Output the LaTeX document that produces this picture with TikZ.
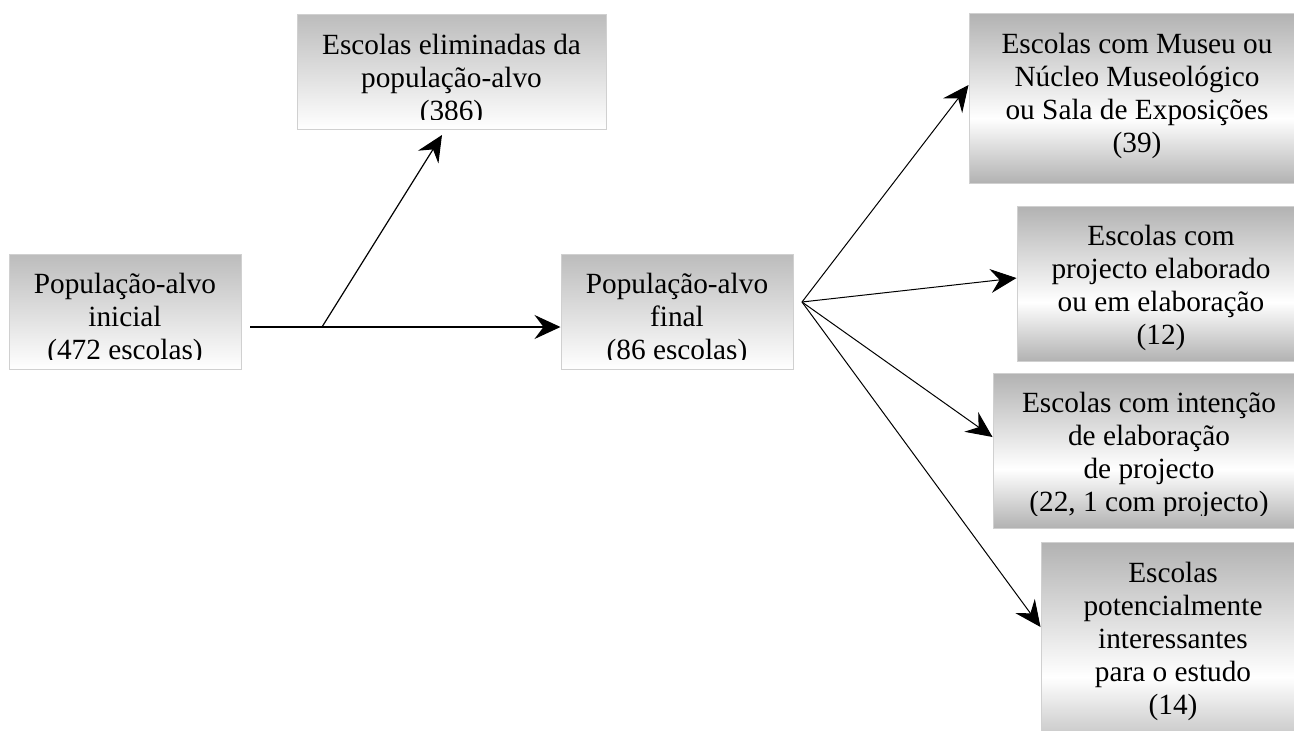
\documentclass[tikz,border=0pt]{standalone}
\usepackage{fontspec}
\setmainfont{Liberation Serif}
\usetikzlibrary{arrows.meta}
\definecolor{boxgray}{RGB}{178,178,178}
\definecolor{boxgrayA}{RGB}{188,188,188}
\definecolor{boxedge}{RGB}{208,208,208}
\pgfdeclareverticalshading{gwg}{100bp}{color(0bp)=(boxgray); color(25bp)=(boxgray); color(44bp)=(white); color(75bp)=(boxgray); color(100bp)=(boxgray)}
\begin{document}
\begin{tikzpicture}[x=1pt,y=-1pt,
  boxA/.style={rectangle, draw=boxedge, line width=1pt, inner sep=0pt, top color=boxgrayA, bottom color=white},
  boxB/.style={rectangle, draw=boxedge, line width=1pt, inner sep=0pt, shading=gwg},
  txt/.style={font=\fontsize{29.3}{33}\selectfont, align=center, inner sep=0pt, anchor=north},
  link/.style={line width=1.4pt, -{Stealth[length=26pt,width=24pt,inset=9pt]}},
  fanlink/.style={line width=1pt, -{Stealth[length=26pt,width=24pt,inset=9pt]}}
]
\useasboundingbox (0,0) rectangle (1294,731);
\fill[white] (0,0) rectangle (1294,731);

% boxes
\node[boxA, minimum width=232pt, minimum height=115pt] (ini) at (125,311.5) {};
\node[boxA, minimum width=309pt, minimum height=115pt] (elim) at (451.5,71.5) {};
\node[boxA, minimum width=232pt, minimum height=115pt] (fin) at (677,311.5) {};
\node[boxB, minimum width=336pt, minimum height=170pt] (mus) at (1137,98) {};
\node[boxB, minimum width=288pt, minimum height=155pt] (proj) at (1161,283.5) {};
\node[boxB, minimum width=312pt, minimum height=155pt] (int) at (1149,450.5) {};
\node[boxB, minimum width=264pt, minimum height=218pt] (pot) at (1173,651) {};

% texts (clipped like the original text boxes)
\begin{scope}
\clip ([yshift=10pt]ini.south west) rectangle (ini.north east);
\node[txt] (ini-t) at ([yshift=-19pt]ini.north) {População-alvo\\inicial\\(472 escolas)};
\end{scope}
\begin{scope}
\clip ([yshift=10pt]elim.south west) rectangle (elim.north east);
\node[txt] (elim-t) at ([yshift=-20pt]elim.north) {Escolas eliminadas da\\população-alvo\\(386)};
\end{scope}
\begin{scope}
\clip ([yshift=10pt]fin.south west) rectangle (fin.north east);
\node[txt] (fin-t) at ([yshift=-19pt]fin.north) {População-alvo\\final\\(86 escolas)};
\end{scope}
\begin{scope}
\clip ([yshift=10pt]mus.south west) rectangle (mus.north east);
\node[txt] (mus-t) at ([yshift=-20pt]mus.north) {Escolas com Museu ou\\Núcleo Museológico\\ou Sala de Exposições\\(39)};
\end{scope}
\begin{scope}
\clip ([yshift=10pt]proj.south west) rectangle (proj.north east);
\node[txt] (proj-t) at ([yshift=-19pt]proj.north) {Escolas com\\projecto elaborado\\ou em elaboração\\(12)};
\end{scope}
\begin{scope}
\clip ([yshift=13pt]int.south west) rectangle (int.north east);
\node[txt] (int-t) at ([yshift=-19pt]int.north) {Escolas com intenção\\de elaboração\\de projecto\\(22, 1 com projecto)};
\end{scope}
\begin{scope}
\clip ([yshift=10pt]pot.south west) rectangle (pot.north east);
\node[txt] (pot-t) at ([yshift=-20pt]pot.north) {Escolas\\potencialmente\\interessantes\\para o estudo\\(14)};
\end{scope}

% connectors
\coordinate (start) at (250,327);
\coordinate (split) at (322,327);
\coordinate (elimtip) at (442,135);
\coordinate (fan) at (802,302);
\draw[link] (start) -- (fin.west |- start);
\draw[line width=1.2pt, -{Stealth[length=26pt,width=24pt,inset=9pt]}] (split) -- (elimtip);
\draw[fanlink] (fan) -- (mus.west |- 0,85);
\draw[fanlink] (fan) -- (proj.west |- 0,278);
\draw[fanlink] (fan) -- (int.west |- 0,437);
\draw[fanlink] (fan) -- (pot.west |- 0,627);
\end{tikzpicture}
\end{document}
